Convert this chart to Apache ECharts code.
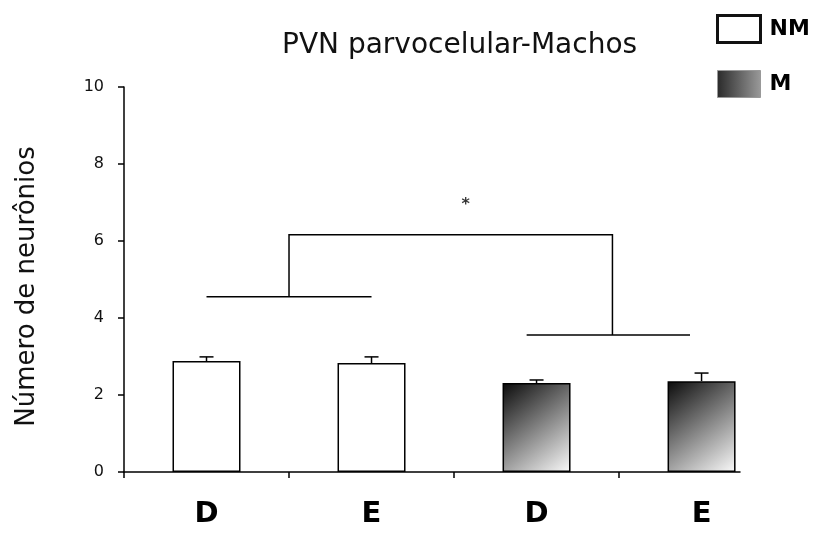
<!DOCTYPE html>
<html>
<head>
<meta charset="utf-8">
<script src="https://cdn.jsdelivr.net/npm/echarts@6/dist/echarts.min.js"></script>
<style>
  html, body { margin: 0; padding: 0; background: #fff; }
  #chart { width: 815px; height: 536px; }
</style>
</head>
<body>
<div id="chart"></div>
<script>
// categorias do eixo x (posicao do centro de cada barra)
var categories = ['D', 'E', 'D', 'E'];
var nmX = [0.5, 1.5];
var nmMean = [2.88, 2.83];
var nmTop = [2.99, 2.99];   // media + erro
var mX = [2.5, 3.5];
var mMean = [2.31, 2.36];
var mTop = [2.39, 2.57];
var yTicks = [0, 2, 4, 6, 8, 10];
var xTicks = [0, 1, 2, 3];

// colchetes de significancia
var bracketLeft = [[0.5, 4.55], [1.5, 4.55]];
var bracketTop = [[1.0, 4.55], [1.0, 6.16], [2.96, 6.16], [2.96, 3.56]];
var bracketRight = [[2.44, 3.56], [3.43, 3.56]];
var starPos = [2.07, 6.95];

var chart = echarts.init(document.getElementById('chart'));

var gradM = new echarts.graphic.LinearGradient(0, 0, 1, 1, [
  { offset: 0, color: '#0a0a0a' },
  { offset: 1, color: '#fbfbfb' }
]);
var gradLegend = new echarts.graphic.LinearGradient(0, 0, 1, 0, [
  { offset: 0, color: '#2a2a2a' },
  { offset: 1, color: '#9a9a9a' }
]);

function pairs(xs, ys) {
  return xs.map(function (x, i) { return [x, ys[i]]; });
}

// barras de erro
function errorItem(params, api) {
  var x = api.value(0);
  var p0 = api.coord([x, api.value(1)]);
  var p1 = api.coord([x, api.value(2)]);
  var st = { stroke: '#000', lineWidth: 1.5 };
  return {
    type: 'group',
    children: [
      { type: 'line', shape: { x1: p0[0], y1: p0[1], x2: p1[0], y2: p1[1] }, style: st },
      { type: 'line', shape: { x1: p1[0] - 7, y1: p1[1], x2: p1[0] + 7, y2: p1[1] }, style: st }
    ]
  };
}

var errData = nmX.map(function (x, i) { return [x, nmMean[i], nmTop[i]]; })
  .concat(mX.map(function (x, i) { return [x, mMean[i], mTop[i]]; }));

var option = {
  animation: false,
  title: {
    text: 'PVN parvocelular-Machos',
    left: 282,
    top: 32,
    padding: 0,
    textStyle: { fontFamily: 'DejaVu Sans', fontSize: 28, fontWeight: 'normal', color: '#111' }
  },
  legend: {
    orient: 'vertical',
    left: 716,
    top: 14,
    padding: 0,
    itemWidth: 43,
    itemHeight: 27,
    itemGap: 26,
    textStyle: { fontFamily: 'DejaVu Sans', fontSize: 22, fontWeight: 'bold', color: '#000', padding: [0, 0, 0, 4] },
    data: [
      { name: 'NM', icon: 'rect', itemStyle: { color: '#fff', borderColor: '#111', borderWidth: 3 } },
      { name: 'M', icon: 'rect', itemStyle: { color: gradLegend, borderColor: '#999', borderWidth: 1 } }
    ]
  },
  grid: { left: 124, right: 75, top: 87, bottom: 64 },
  xAxis: [
    {
      type: 'value',
      min: 0,
      max: 3.733,
      interval: 1,
      splitLine: { show: false },
      axisLine: { lineStyle: { color: '#000', width: 1.5 } },
      axisTick: { show: true, length: 6, customValues: xTicks, lineStyle: { color: '#000', width: 1.5 } },
      axisLabel: { show: false }
    },
    {
      type: 'value',
      position: 'bottom',
      offset: 0,
      min: 0,
      max: 3.733,
      interval: 0.5,
      splitLine: { show: false },
      axisLine: { show: false },
      axisTick: { show: false },
      axisLabel: {
        margin: 28,
        fontFamily: 'DejaVu Sans',
        fontSize: 29,
        fontWeight: 'bold',
        color: '#000',
        showMaxLabel: false,
        formatter: function (v) {
          var i = Math.floor(v);
          return Math.abs(v - i - 0.5) < 1e-6 ? categories[i] : '';
        }
      }
    }
  ],
  yAxis: {
    type: 'value',
    min: 0,
    max: 10,
    interval: 2,
    name: 'Número de neurônios',
    nameLocation: 'middle',
    nameRotate: 90,
    nameGap: 84,
    nameTextStyle: { fontFamily: 'DejaVu Sans', fontSize: 26, color: '#111', padding: [0, 14, 0, 0] },
    splitLine: { show: false },
    axisLine: { show: true, lineStyle: { color: '#000', width: 1.5 } },
    axisTick: { show: true, length: 6, lineStyle: { color: '#000', width: 1.5 } },
    axisLabel: {
      margin: 20,
      fontFamily: 'DejaVu Sans',
      fontSize: 16,
      color: '#111',
      formatter: function (v) { return yTicks.indexOf(v) >= 0 ? String(v) : ''; }
    }
  },
  series: [
    {
      name: 'NM',
      type: 'bar',
      barWidth: 68,
      barGap: '-100%',
      data: pairs(nmX, nmMean),
      itemStyle: { color: '#fff', borderColor: '#000', borderWidth: 1.5 }
    },
    {
      name: 'M',
      type: 'bar',
      barWidth: 68,
      barGap: '-100%',
      data: pairs(mX, mMean),
      itemStyle: { color: gradM, borderColor: '#000', borderWidth: 1.5 }
    },
    {
      type: 'custom',
      renderItem: errorItem,
      data: errData,
      z: 5
    },
    {
      type: 'lines',
      coordinateSystem: 'cartesian2d',
      polyline: true,
      symbol: 'none',
      lineStyle: { color: '#000', width: 1.5, opacity: 1 },
      data: [
        { coords: bracketLeft },
        { coords: bracketTop },
        { coords: bracketRight }
      ]
    },
    {
      type: 'scatter',
      symbolSize: 0,
      data: [starPos],
      label: {
        show: true,
        position: 'inside',
        formatter: '*',
        fontFamily: 'DejaVu Sans',
        fontWeight: 'bold',
        fontSize: 16,
        color: '#000'
      }
    }
  ]
};

chart.setOption(option);
</script>
</body>
</html>
